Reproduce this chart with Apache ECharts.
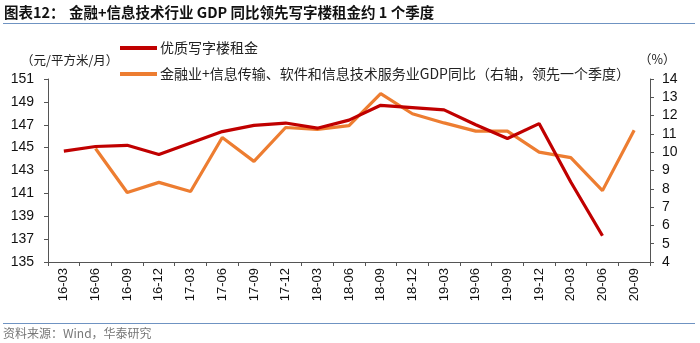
<!DOCTYPE html>
<html>
<head>
<meta charset="utf-8">
<script src="https://cdn.jsdelivr.net/npm/echarts@6/dist/echarts.min.js"></script>
<style>
  html, body { margin: 0; padding: 0; background: #fff; }
  #chart { width: 700px; height: 343px; }
</style>
</head>
<body>
<div id="chart"></div>
<script>
// Quarter labels
const quarters = ['16-03','16-06','16-09','16-12','17-03','17-06','17-09','17-12','18-03','18-06',
                  '18-09','18-12','19-03','19-06','19-09','19-12','20-03','20-06','20-09'];

// Prime office rent (yuan / m² / month), left axis
const officeRent = [144.7,145.1,145.2,144.4,145.4,146.4,146.95,147.15,146.7,147.4,
                    148.7,148.5,148.3,147.0,145.8,147.1,142.0,137.3,null];

// Finance + IT services GDP YoY (%), right axis, shifted one quarter ahead
const gdpYoY = [null,10.2,7.8,8.35,7.85,10.8,9.5,11.35,11.25,11.45,
                13.2,12.1,11.6,11.15,11.15,10.0,9.7,7.9,11.2];

const leftTicks = { min: 135, max: 151, interval: 2 };
const rightTicks = { min: 4, max: 14, interval: 1 };

const seriesNames = ['优质写字楼租金', '金融业+信息传输、软件和信息技术服务业GDP同比（右轴，领先一个季度）'];

const RED = '#c00000';
const ORANGE = '#ed7d31';
const AXIS = '#555555';
const numFont = 'Liberation Sans, Arial, sans-serif';
const cjkFont = '"Noto Sans CJK SC", sans-serif';

const chart = echarts.init(document.getElementById('chart'), null, { renderer: 'canvas' });

chart.setOption({
  animation: false,
  backgroundColor: '#ffffff',
  grid: { left: 48, right: 50, top: 79, bottom: 81, containLabel: false },
  legend: {
    orient: 'vertical',
    left: 120,
    top: 41,
    padding: 0,
    itemWidth: 37,
    itemHeight: 4,
    itemGap: 12,
    icon: 'rect',
    textStyle: { fontFamily: cjkFont, fontSize: 14, color: '#222', padding: [0, 0, 0, -2] },
    data: seriesNames
  },
  xAxis: {
    type: 'category',
    data: quarters,
    boundaryGap: true,
    axisLine: { lineStyle: { color: AXIS, width: 1 } },
    axisTick: { show: true, alignWithLabel: false, length: 4, lineStyle: { color: AXIS } },
    axisLabel: { rotate: 90, interval: 0, fontFamily: numFont, fontSize: 13, color: '#111', margin: 6 },
    splitLine: { show: false }
  },
  yAxis: [
    {
      type: 'value',
      min: leftTicks.min, max: leftTicks.max, interval: leftTicks.interval,
      position: 'left',
      axisLine: { show: true, lineStyle: { color: AXIS } },
      axisTick: { show: true, length: 4, lineStyle: { color: AXIS } },
      axisLabel: { fontFamily: numFont, fontSize: 14, color: '#111', margin: 14 },
      splitLine: { show: false }
    },
    {
      type: 'value',
      min: rightTicks.min, max: rightTicks.max, interval: rightTicks.interval,
      position: 'right',
      axisLine: { show: true, lineStyle: { color: AXIS } },
      axisTick: { show: true, length: 4, lineStyle: { color: AXIS } },
      axisLabel: { fontFamily: numFont, fontSize: 14, color: '#111', margin: 12 },
      splitLine: { show: false }
    }
  ],
  series: [
    {
      name: seriesNames[0],
      type: 'line',
      yAxisIndex: 0,
      data: officeRent,
      symbol: 'none',
      lineStyle: { color: RED, width: 3.2 },
      itemStyle: { color: RED },
      z: 3
    },
    {
      name: seriesNames[1],
      type: 'line',
      yAxisIndex: 1,
      data: gdpYoY,
      symbol: 'none',
      lineStyle: { color: ORANGE, width: 3.2 },
      itemStyle: { color: ORANGE },
      z: 2
    }
  ],
  graphic: [
    {
      type: 'text', left: 4, top: 5,
      style: { text: '图表12：', font: 'bold 14.5px ' + cjkFont, fill: '#111' }
    },
    {
      type: 'text', left: 69, top: 5,
      style: { text: '金融+信息技术行业 GDP 同比领先写字楼租金约 1 个季度', font: 'bold 14.5px ' + cjkFont, fill: '#111' }
    },
    {
      type: 'line', shape: { x1: 3, y1: 23.5, x2: 695, y2: 23.5 },
      style: { stroke: '#6f93c2', lineWidth: 1.2 }
    },
    {
      type: 'text', left: 21, top: 54,
      style: { text: '（元/平方米/月）', font: '12.5px ' + cjkFont, fill: '#222' }
    },
    {
      type: 'text', left: 639, top: 53,
      style: { text: '（%）', font: '12.5px ' + cjkFont, fill: '#222' }
    },
    {
      type: 'line', shape: { x1: 3, y1: 323.5, x2: 695, y2: 323.5 },
      style: { stroke: '#6f93c2', lineWidth: 1.2 }
    },
    {
      type: 'text', left: 3, top: 327,
      style: { text: '资料来源：Wind，华泰研究', font: '12px ' + cjkFont, fill: '#777' }
    }
  ]
});
</script>
</body>
</html>
